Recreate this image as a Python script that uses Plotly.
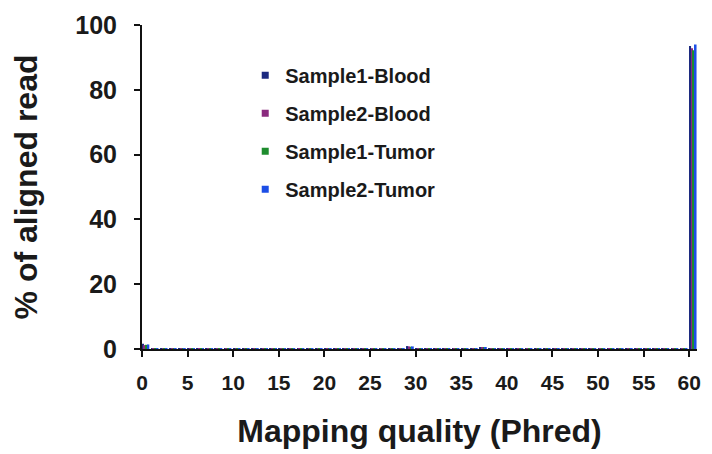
import plotly.graph_objects as go

# Mapping quality (Phred) categories
qualities = list(range(61))

series_names = ["Sample1-Blood", "Sample2-Blood", "Sample1-Tumor", "Sample2-Tumor"]
series_colors = ["#1c2a80", "#8a2a7e", "#1e8c2e", "#1c4ee6"]

# % of aligned reads per mapping quality
sample1_blood = [1.6, 0.1, 0.1, 0.1, 0.1, 0.1, 0.1, 0.1, 0.1, 0.1,
                 0.1, 0.1, 0.1, 0.1, 0.1, 0.1, 0.1, 0.1, 0.1, 0.1,
                 0.1, 0.1, 0.1, 0.1, 0.1, 0.2, 0.1, 0.1, 0.2, 0.9,
                 0.2, 0.1, 0.1, 0.1, 0.1, 0.1, 0.2, 0.6, 0.2, 0.1,
                 0.1, 0.1, 0.1, 0.1, 0.1, 0.1, 0.1, 0.1, 0.1, 0.1,
                 0.1, 0.1, 0.1, 0.1, 0.1, 0.1, 0.1, 0.1, 0.1, 0.1,
                 93.5]
sample2_blood = [1.2, 0.1, 0.1, 0.1, 0.1, 0.1, 0.1, 0.1, 0.1, 0.1,
                 0.1, 0.1, 0.1, 0.1, 0.1, 0.1, 0.1, 0.1, 0.1, 0.1,
                 0.1, 0.1, 0.1, 0.1, 0.1, 0.1, 0.1, 0.1, 0.2, 0.8,
                 0.2, 0.1, 0.1, 0.1, 0.1, 0.1, 0.1, 0.5, 0.1, 0.1,
                 0.1, 0.1, 0.1, 0.1, 0.1, 0.1, 0.1, 0.1, 0.1, 0.1,
                 0.1, 0.1, 0.1, 0.1, 0.1, 0.1, 0.1, 0.1, 0.1, 0.1,
                 92.8]
sample1_tumor = [1.3, 0.1, 0.1, 0.1, 0.1, 0.1, 0.1, 0.1, 0.1, 0.1,
                 0.1, 0.1, 0.1, 0.1, 0.1, 0.1, 0.1, 0.1, 0.1, 0.1,
                 0.1, 0.1, 0.1, 0.1, 0.1, 0.1, 0.1, 0.1, 0.2, 0.7,
                 0.2, 0.1, 0.1, 0.1, 0.1, 0.1, 0.1, 0.5, 0.1, 0.1,
                 0.1, 0.1, 0.1, 0.1, 0.1, 0.1, 0.1, 0.1, 0.1, 0.1,
                 0.1, 0.1, 0.1, 0.1, 0.1, 0.1, 0.1, 0.1, 0.1, 0.1,
                 92.2]
sample2_tumor = [1.4, 0.1, 0.1, 0.1, 0.1, 0.1, 0.1, 0.1, 0.1, 0.1,
                 0.1, 0.1, 0.1, 0.1, 0.1, 0.1, 0.1, 0.1, 0.1, 0.1,
                 0.1, 0.1, 0.1, 0.1, 0.1, 0.1, 0.1, 0.1, 0.2, 0.8,
                 0.2, 0.1, 0.1, 0.1, 0.1, 0.1, 0.1, 0.6, 0.1, 0.1,
                 0.1, 0.1, 0.1, 0.1, 0.1, 0.1, 0.1, 0.1, 0.1, 0.1,
                 0.1, 0.1, 0.1, 0.1, 0.1, 0.1, 0.1, 0.1, 0.1, 0.1,
                 94.0]

series_values = [sample1_blood, sample2_blood, sample1_tumor, sample2_tumor]

x_tick_vals = [0, 5, 10, 15, 20, 25, 30, 35, 40, 45, 50, 55, 60]
y_tick_vals = [0, 20, 40, 60, 80, 100]

FONT = "Liberation Sans, Arial, Helvetica, sans-serif"
TXT = "#1a1a1a"

fig = go.Figure()

bar_w = 0.2
for i, (name, color, vals) in enumerate(zip(series_names, series_colors, series_values)):
    fig.add_trace(go.Bar(
        x=qualities, y=vals, name=name,
        marker=dict(color=color, line=dict(width=0)),
        width=bar_w, offset=i * bar_w,
        showlegend=False, legendgroup=name,
    ))

# legend-only entries (small square swatches)
for name, color in zip(series_names, series_colors):
    fig.add_trace(go.Scatter(
        x=[None], y=[None], mode="markers", name=name,
        marker=dict(symbol="square", size=7, color=color),
        legendgroup=name, showlegend=True,
    ))

fig.update_layout(
    width=712, height=454,
    margin=dict(l=142, r=11, t=22, b=103),
    paper_bgcolor="white", plot_bgcolor="white",
    barmode="overlay",
    font=dict(family=FONT, color=TXT),
    legend=dict(
        x=0.186, y=0.905, xanchor="left", yanchor="top",
        bgcolor="rgba(0,0,0,0)",
        font=dict(family=FONT, size=20, color=TXT, weight="bold"),
        tracegroupgap=9, itemwidth=30,
    ),
    xaxis=dict(
        range=[0, 60.85], tickmode="array", tickvals=x_tick_vals,
        showgrid=False, zeroline=False,
        showline=True, linecolor="#111", linewidth=2,
        ticks="outside", ticklen=6, tickwidth=2, tickcolor="#111",
        tickfont=dict(family=FONT, size=21, color=TXT, weight="bold"),
        ticklabelstandoff=8,
        title=dict(text="Mapping quality (Phred)", standoff=26,
                   font=dict(family=FONT, size=32, color=TXT, weight="bold")),
    ),
    yaxis=dict(
        range=[0, 100], tickmode="array", tickvals=y_tick_vals,
        showgrid=False, zeroline=False,
        showline=True, linecolor="#111", linewidth=2,
        ticks="outside", ticklen=6, tickwidth=2, tickcolor="#111",
        tickfont=dict(family=FONT, size=25, color=TXT, weight="bold"),
        ticklabelstandoff=12,
        title=dict(text="% of aligned read", standoff=28,
                   font=dict(family=FONT, size=32, color=TXT, weight="bold")),
    ),
)

fig.write_html("out.html")
